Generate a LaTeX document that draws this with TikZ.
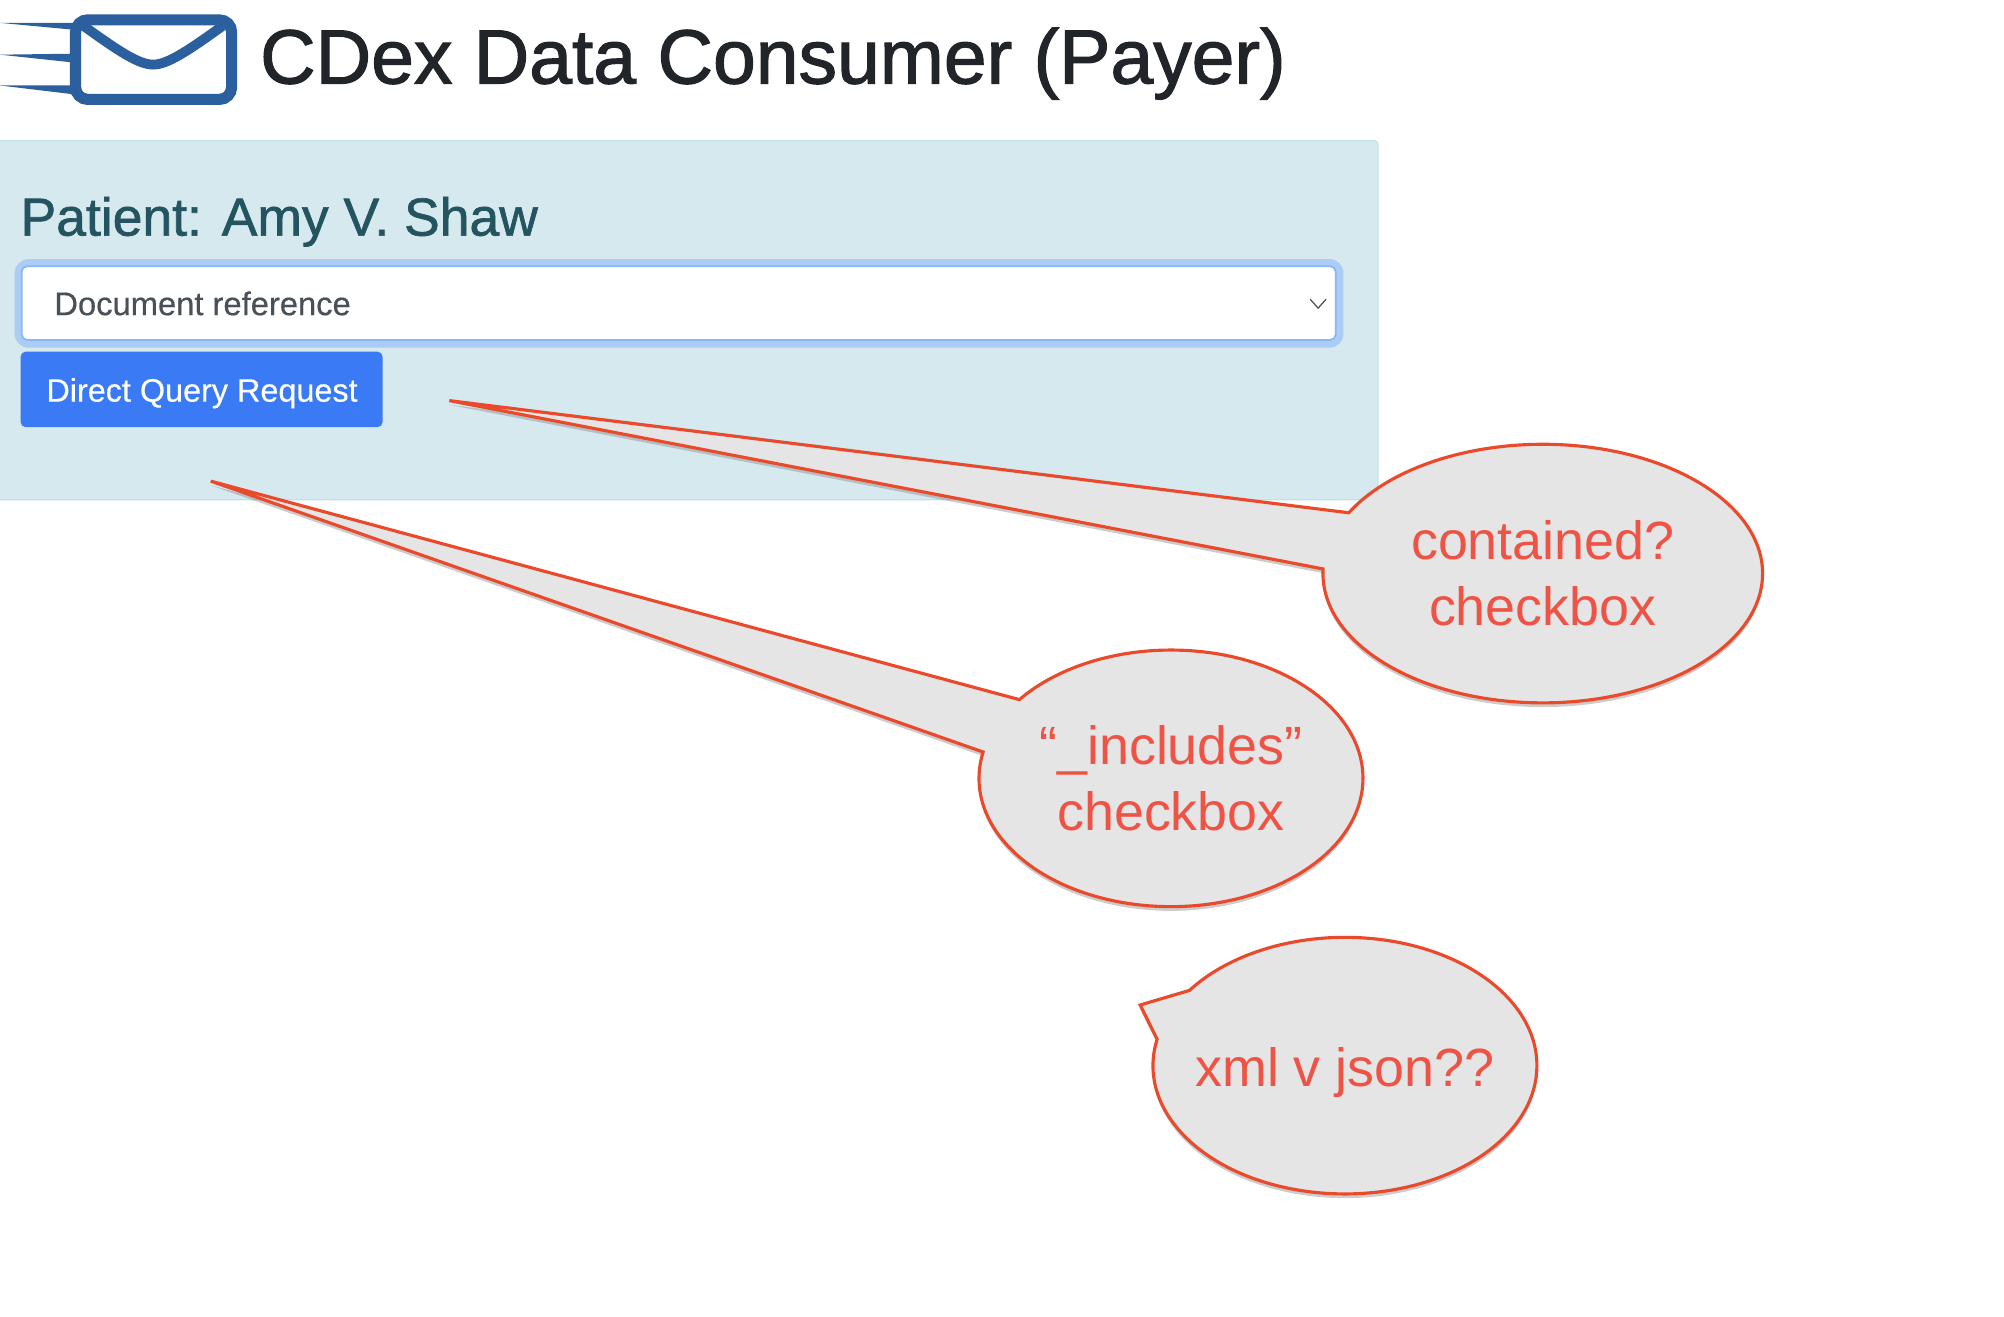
\documentclass[tikz,border=0pt]{standalone}
\usepackage{fontspec}
\setmainfont{Liberation Sans}
\usetikzlibrary{shapes.callouts,shadows}
\definecolor{paneFill}{HTML}{D5E9EF}
\definecolor{paneLine}{HTML}{BEE2EB}
\definecolor{paneText}{HTML}{24545F}
\definecolor{titleText}{HTML}{212529}
\definecolor{mailBlue}{HTML}{2B5F9E}
\definecolor{ringBlue}{HTML}{ABCDF3}
\definecolor{selectLine}{HTML}{86B7FE}
\definecolor{selectText}{HTML}{495057}
\definecolor{buttonBlue}{HTML}{3A7AF5}
\definecolor{bubbleFill}{HTML}{E5E5E5}
\definecolor{bubbleLine}{HTML}{EA4A2C}
\definecolor{bubbleText}{HTML}{EF5345}
\tikzset{
  bubble/.style={ellipse callout,draw=bubbleLine,fill=bubbleFill,line width=0.9pt,
    text=bubbleText,align=center,inner sep=0pt,font=\fontsize{15.4}{18.8}\selectfont,
    drop shadow={opacity=0.4,shadow xshift=0pt,shadow yshift=-1.2pt}},
  webtext/.style={anchor=base west,inner sep=0pt}
}
\begin{document}
\begin{tikzpicture}[x=0.01cm,y=-0.01cm]
  \useasboundingbox (0,0) rectangle (2016,1324);
  % envelope
  \fill[mailBlue] (0,23) -- (75,23) -- (75,30) -- cycle;
  \fill[mailBlue] (0,55) -- (75,54) -- (75,63) -- cycle;
  \fill[mailBlue] (0,86) -- (75,86) -- (75,95) -- cycle;
  \draw[mailBlue,line width=3.2pt,fill=white,rounded corners=3.5pt] (76,20) rectangle (233,100);
  \draw[mailBlue,line width=2.8pt,line join=round] (84,26) .. controls (120,52) and (140,65) .. (154,65)
    .. controls (168,65) and (188,52) .. (224,26);
  \node[anchor=base west,inner sep=0pt,text=titleText,font=\fontsize{22}{26}\selectfont\addfontfeature{FakeBold=1.5}] (title) at (261,84) {CDex Data Consumer (Payer)};
  % panel
  \node[anchor=north west,inner sep=0pt,fill=paneFill,draw=paneLine,line width=0.3pt,rounded corners=1pt,minimum width=13.9cm,minimum height=3.61cm] (panel) at (-5,141) {};
  \node[webtext,text=paneText,font=\fontsize{15.3}{18}\selectfont\addfontfeature{FakeBold=1.2}] (patient) at (20,237) {Patient: Amy V. Shaw};
  \node[anchor=north west,inner sep=0pt,fill=ringBlue,rounded corners=4pt,minimum width=13.36cm,minimum height=0.89cm] (ring) at (14,260) {};
  \node[anchor=north west,inner sep=0pt,fill=white,draw=selectLine,line width=0.5pt,rounded corners=1.5pt,minimum width=13.21cm,minimum height=0.74cm] (select) at (21,267) {};
  \node[webtext,text=selectText,font=\fontsize{9.36}{11}\selectfont\addfontfeature{FakeBold=0.4}] (doc) at (54,317) {Document reference};
  \draw[selectText,line width=0.35pt] (1318,301) -- (1326,310) -- (1334,301);
  \node[anchor=north west,inner sep=0pt,fill=buttonBlue,rounded corners=1.5pt,minimum width=3.64cm,minimum height=0.76cm] (button) at (20,353) {};
  \node[webtext,text=white,font=\fontsize{9.26}{11}\selectfont\addfontfeature{FakeBold=0.4}] (query) at (46,404) {Direct Query Request};
  % callouts
  \coordinate (containedTip) at (452,403);
  \coordinate (includesTip) at (212,484);
  \coordinate (formatTip) at (1147,1011);
  \node[bubble,minimum width=4.42cm,minimum height=2.6cm,callout absolute pointer={(containedTip)},callout pointer arc=26] (contained) at (1552,577) {contained?\\checkbox};
  \node[bubble,minimum width=3.86cm,minimum height=2.58cm,callout absolute pointer={(includesTip)},callout pointer arc=26] (includes) at (1178,783) {“\_includes”\\checkbox};
  \node[bubble,minimum width=3.86cm,minimum height=2.58cm,callout absolute pointer={(formatTip)},callout pointer arc=24] (format) at (1353,1072) {\raisebox{-0.21cm}[0pt][0pt]{\makebox[2.4cm]{xml v json??}}};
\end{tikzpicture}
\end{document}
